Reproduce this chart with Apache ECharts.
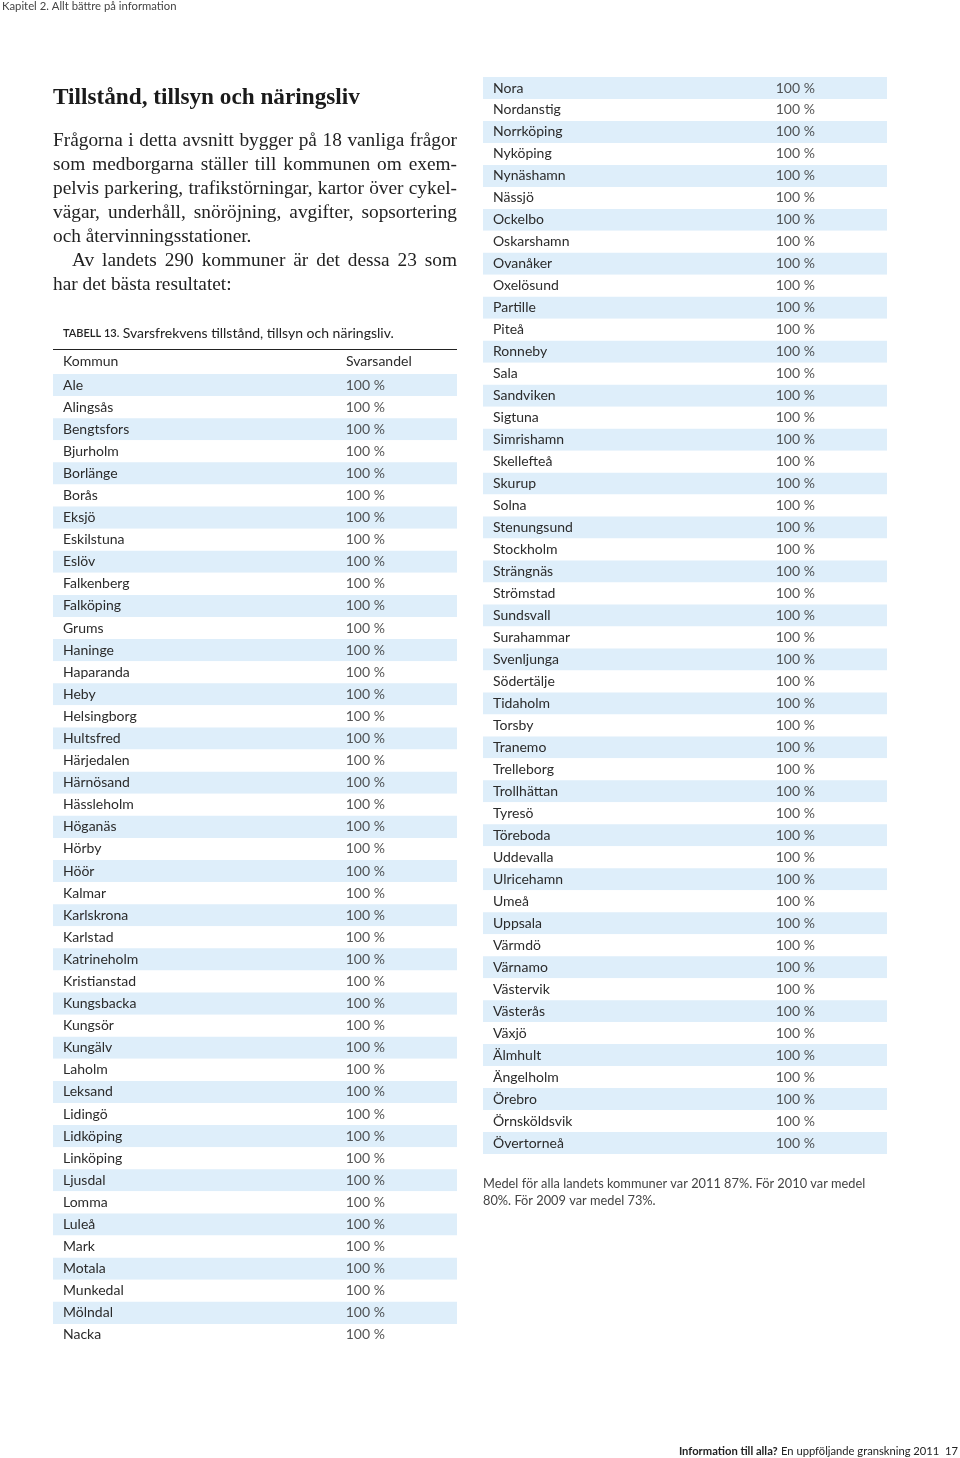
<!DOCTYPE html>
<html><head><meta charset="utf-8">
<script src="https://cdn.jsdelivr.net/npm/echarts@6/dist/echarts.min.js"></script>
<style>html,body{margin:0;padding:0;background:#fff}#c{width:960px;height:1458px}</style>
</head><body><div id="c"></div>
<script>
// ---- Data ----
const kommunerVanster = ['Ale','Alingsås','Bengtsfors','Bjurholm','Borlänge','Borås','Eksjö','Eskilstuna','Eslöv','Falkenberg','Falköping','Grums','Haninge','Haparanda','Heby','Helsingborg','Hultsfred','Härjedalen','Härnösand','Hässleholm','Höganäs','Hörby','Höör','Kalmar','Karlskrona','Karlstad','Katrineholm','Kristianstad','Kungsbacka','Kungsör','Kungälv','Laholm','Leksand','Lidingö','Lidköping','Linköping','Ljusdal','Lomma','Luleå','Mark','Motala','Munkedal','Mölndal','Nacka'];
const svarsandelVanster = [100,100,100,100,100,100,100,100,100,100,100,100,100,100,100,100,100,100,100,100,100,100,100,100,100,100,100,100,100,100,100,100,100,100,100,100,100,100,100,100,100,100,100,100];
const kommunerHoger = ['Nora','Nordanstig','Norrköping','Nyköping','Nynäshamn','Nässjö','Ockelbo','Oskarshamn','Ovanåker','Oxelösund','Partille','Piteå','Ronneby','Sala','Sandviken','Sigtuna','Simrishamn','Skellefteå','Skurup','Solna','Stenungsund','Stockholm','Strängnäs','Strömstad','Sundsvall','Surahammar','Svenljunga','Södertälje','Tidaholm','Torsby','Tranemo','Trelleborg','Trollhättan','Tyresö','Töreboda','Uddevalla','Ulricehamn','Umeå','Uppsala','Värmdö','Värnamo','Västervik','Västerås','Växjö','Älmhult','Ängelholm','Örebro','Örnsköldsvik','Övertorneå'];
const svarsandelHoger = [100,100,100,100,100,100,100,100,100,100,100,100,100,100,100,100,100,100,100,100,100,100,100,100,100,100,100,100,100,100,100,100,100,100,100,100,100,100,100,100,100,100,100,100,100,100,100,100,100];
const kolumnRubriker = ['Kommun', 'Svarsandel'];
const enhet = ' %';

const rubrik = 'Tillstånd, tillsyn och näringsliv';
const ingress = [
  ['Frågorna i detta avsnitt bygger på 18 vanliga frågor', true, 0],
  ['som medborgarna ställer till kommunen om exem-', true, 0],
  ['pelvis parkering, trafikstörningar, kartor över cykel-', true, 0],
  ['vägar, underhåll, snöröjning, avgifter, sopsortering', true, 0],
  ['och återvinningsstationer.', false, 0],
  ['Av landets 290 kommuner är det dessa 23 som', true, 19],
  ['har det bästa resultatet:', false, 0]
];
const tabellEtikett = 'TABELL 13.';
const tabellTitel = 'Svarsfrekvens tillstånd, tillsyn och näringsliv.';
const fotnot = ['Medel för alla landets kommuner var 2011 87%. För 2010 var medel', '80%. För 2009 var medel 73%.'];
const kapitel = 'Kapitel 2. Allt bättre på information';

// ---- Layout helpers ----
const SANS = 'Lato';
const SERIF = '"Liberation Serif"';
const TXT = '#2b2b2b';
const SHADE = '#deeefa';
const ctx = document.createElement('canvas').getContext('2d');

function fitSize(text, weight, family, target) {
  ctx.font = weight + ' 100px ' + family;
  return 100 * target / ctx.measureText(text).width;
}
const bodySize = Math.min(20, fitSize(ingress[0][0], 'normal', SERIF, 398));
const titleSize = Math.min(24, fitSize(rubrik, 'bold', SERIF, 307));

function lineEls(text, x0, x1, y, font, justify) {
  if (!justify) return [{type:'text', x:x0, y:y, silent:true, style:{text:text, font:font, fill:'#222', verticalAlign:'middle'}}];
  const words = text.split(' ');
  ctx.font = font;
  const w = words.map(s => ctx.measureText(s).width);
  const tot = w.reduce((a,b)=>a+b,0);
  const gap = (x1 - x0 - tot) / (words.length - 1);
  let x = x0;
  return words.map((s,i) => { const el = {type:'text', x:x, y:y, silent:true, style:{text:s, font:font, fill:'#222', verticalAlign:'middle'}}; x += w[i] + gap; return el; });
}

const graphics = [];
graphics.push({type:'text', x:2, y:6, silent:true, style:{text:kapitel, font:'11.3px ' + SANS, fill:'#444', verticalAlign:'middle'}});
graphics.push({type:'text', x:53, y:98, silent:true, style:{text:rubrik, font:'bold ' + titleSize.toFixed(2) + 'px ' + SERIF, fill:'#1a1a1a', verticalAlign:'middle'}});
ingress.forEach((l, i) => {
  lineEls(l[0], 53 + l[2], 457, 141 + i * 24, bodySize.toFixed(2) + 'px ' + SERIF, l[1]).forEach(e => graphics.push(e));
});
graphics.push({type:'text', x:63, y:333, silent:true, style:{text:'{a|' + tabellEtikett + '} {b|' + tabellTitel + '}', verticalAlign:'middle', rich:{a:{fontFamily:SANS, fontSize:11, fill:'#222', fontWeight:600}, b:{fontFamily:SANS, fontSize:14, fill:'#222'}}}});
graphics.push({type:'line', silent:true, shape:{x1:53, y1:349.5, x2:457, y2:349.5}, style:{stroke:'#222', lineWidth:1.2}});
graphics.push({type:'text', x:63, y:361, silent:true, style:{text:kolumnRubriker[0], font:'14px ' + SANS, fill:TXT, verticalAlign:'middle'}});
graphics.push({type:'text', x:346, y:361, silent:true, style:{text:kolumnRubriker[1], font:'14px ' + SANS, fill:TXT, verticalAlign:'middle'}});
fotnot.forEach((t, i) => graphics.push({type:'text', x:483, y:1184 + i * 17, silent:true, style:{text:t, font:'12.8px ' + SANS, fill:'#444', verticalAlign:'middle'}}));
graphics.push({type:'text', x:958, y:1451, silent:true, style:{text:'{a|Information till alla?} {b|En uppföljande granskning 2011  17}', align:'right', verticalAlign:'middle', rich:{a:{fontFamily:SANS, fontSize:11.2, fontWeight:'bold', fill:'#222'}, b:{fontFamily:SANS, fontSize:11.2, fill:'#222'}}}});

function yAx(idx, data) {
  return {gridIndex:idx, type:'category', inverse:true, data:data,
    axisLine:{show:false}, axisTick:{show:false}, splitLine:{show:false},
    axisLabel:{inside:true, interval:0, margin:10, color:TXT, fontFamily:SANS, fontSize:14},
    splitArea:{show:true, interval:0, areaStyle:{color:[SHADE, '#ffffff']}}};
}
function xAx(idx) { return {gridIndex:idx, type:'value', min:0, max:138, show:false}; }
function ser(idx, names, vals) {
  return {type:'scatter', xAxisIndex:idx, yAxisIndex:idx, symbolSize:0, silent:true,
    data: names.map((n,i) => [vals[i], n]),
    label:{show:true, position:'right', distance:0, color:TXT, fontFamily:SANS, fontSize:14,
      formatter: p => p.value[0] + enhet}};
}

const chart = echarts.init(document.getElementById('c'));
chart.setOption({
  animation:false,
  backgroundColor:'#fff',
  grid:[{left:53, top:374, width:404, height:972}, {left:483, top:77, width:404, height:1077}],
  xAxis:[xAx(0), xAx(1)],
  yAxis:[yAx(0, kommunerVanster), yAx(1, kommunerHoger)],
  series:[ser(0, kommunerVanster, svarsandelVanster), ser(1, kommunerHoger, svarsandelHoger)],
  graphic:graphics
});
</script></body></html>
